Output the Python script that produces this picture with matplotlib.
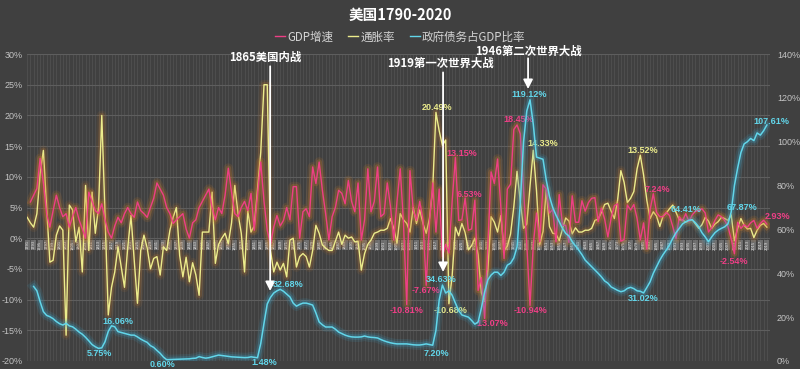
import numpy as np
import matplotlib
matplotlib.use("Agg")
import matplotlib.pyplot as plt
import matplotlib.patheffects as pe
from matplotlib.lines import Line2D

# ---------------- data (years 1791-2019) ----------------
years = np.arange(1791, 2020)

gdp_growth = [
    None, 5.9, 7.0, 8.1, 13.0, 9.0, 4.0, 1.8, 4.5, 7.0,          # 1791-1800
    5.0, 3.5, 4.0, 1.8, 3.5, 5.0, 3.0, 1.5, 0.0, 7.5,            # 1801-1810
    6.0, 4.5, 4.0, 5.6, 3.0, 1.0, 0.0, 2.0, 3.4, 2.5,            # 1811-1820
    4.0, 5.0, 4.0, 3.4, 5.9, 4.5, 4.0, 3.4, 5.0, 6.5,            # 1821-1830
    9.0, 8.0, 7.0, 5.0, 4.0, 2.4, 3.0, 3.5, 4.0, 1.5,            # 1831-1840
    0.0, 2.5, 3.0, 5.0, 6.0, 7.0, 8.0, 5.0, 3.0, 5.0,            # 1841-1850
    4.0, 7.0, 11.4, 7.5, 4.0, 3.5, 5.0, 6.0, 4.5, 7.3,           # 1851-1860
    1.3, 7.0, 12.4, 6.0, 1.3, -1.0, 1.8, 3.7, 2.0, 2.9,          # 1861-1870
    5.0, 3.0, 8.4, 8.4, 0.0, 4.3, 4.8, 3.5, 11.6, 8.9,           # 1871-1880
    12.4, 7.8, 4.0, -0.3, 3.5, 5.0, 7.8, 7.3, 5.6, 9.4,          # 1881-1890
    6.0, 4.3, 9.0, -0.3, 3.0, 11.3, 4.3, 6.0, 11.6, 3.5,         # 1891-1900
    4.0, 9.0, 5.1, -0.3, 6.0, 11.3, 2.4, -10.81, 11.0, 4.6,      # 1901-1910
    2.9, 6.0, 3.0, -7.67, 2.5, 9.0, 1.0, 8.0, -3.0, -1.0,        # 1911-1920
    -2.4, 6.0, 13.15, 2.9, 3.0, 6.53, 1.3, 1.5, 6.2, -8.5,       # 1921-1930
    -6.4, -13.07, -1.3, 10.8, 8.9, 12.9, 5.1, -3.3, 8.0, 8.8,    # 1931-1940
    17.7, 18.45, 17.0, 8.0, -1.0, -10.94, -1.1, 4.1, -0.6, 8.7,  # 1941-1950
    8.0, 4.1, 4.7, -0.6, 7.1, 2.1, 2.1, -0.7, 6.9, 2.6,          # 1951-1960
    2.6, 6.1, 4.4, 5.8, 6.5, 6.6, 2.7, 4.9, 3.1, 0.2,            # 1961-1970
    3.3, 5.3, 5.6, -0.5, -0.2, 5.4, 4.6, 5.5, 3.2, -0.3,         # 1971-1980
    2.5, -1.8, 4.6, 7.24, 4.2, 3.5, 3.5, 4.2, 3.7, 1.9,          # 1981-1990
    -0.1, 3.5, 2.8, 4.0, 2.7, 3.8, 4.4, 4.5, 4.8, 4.1,           # 1991-2000
    1.0, 1.7, 2.9, 3.8, 3.5, 2.9, 1.9, -0.1, -2.54, 2.6,         # 2001-2010
    1.6, 2.2, 1.8, 2.5, 2.9, 1.6, 2.4, 2.93, 2.3,                # 2011-2019
]

inflation = [
    3.4, 2.5, 1.8, 4.0, 10.5, 14.3, 5.0, -3.9, -3.6, 0.5,        # 1791-1800
    2.0, 1.3, -15.8, 5.4, 4.6, -0.6, 1.8, -5.5, 8.6, -2.0,       # 1801-1810
    7.5, 0.8, 5.0, 20.0, 4.0, -12.5, -8.0, -5.5, -1.4, -4.7,     # 1811-1820
    -8.0, -1.5, 3.7, -3.6, -10.6, -2.0, 0.5, -1.6, -5.0, -3.3,   # 1821-1830
    -3.0, -6.0, -1.4, -2.0, 1.3, 3.4, 5.0, -2.8, -6.3, -3.1,     # 1831-1840
    -7.1, -4.0, -6.0, -9.3, 1.0, 1.0, 1.0, 7.5, -4.1, -1.0,      # 1841-1850
    0.0, 0.8, -0.9, 2.5, 8.6, 4.0, 0.8, -5.5, 4.5, 1.0,          # 1851-1860
    2.0, 8.0, 14.0, 25.0, 25.0, -2.0, -5.5, -3.9, -5.2, -4.1,    # 1861-1870
    -6.3, -0.3, 0.0, -4.7, -3.0, -2.5, -3.0, -4.7, -2.0, 2.1,    # 1871-1880
    0.8, -1.1, -1.6, -2.0, -2.0, -0.5, 1.0, -1.0, 0.5, 0.0,      # 1881-1890
    0.2, -0.6, -0.5, -5.2, -2.5, -1.0, -0.3, 0.8, 1.0, 1.3,      # 1891-1900
    1.3, 1.6, 3.2, 1.6, -0.8, 4.0, 3.0, 2.4, 1.0, 5.0,           # 1901-1910
    2.4, 4.6, 2.4, 0.8, 3.2, 8.0, 20.49, 17.5, 15.1, 16.0,       # 1911-1920
    -10.68, -6.1, 1.8, 0.4, 2.4, 0.9, -1.9, -1.2, 0.0, -2.7,     # 1921-1930
    -8.9, -10.3, -5.2, 3.5, 2.6, 1.0, 3.7, -2.0, -1.3, 0.7,      # 1931-1940
    5.1, 10.9, 6.0, 1.6, 2.3, 8.5, 14.33, 7.7, -1.0, 1.1,        # 1941-1950
    7.9, 1.9, 0.8, 0.7, -0.4, 1.5, 3.3, 2.8, 0.7, 1.7,           # 1951-1960
    1.0, 1.0, 1.3, 1.3, 1.6, 2.9, 3.1, 4.2, 5.5, 5.7,            # 1961-1970
    4.4, 3.2, 6.2, 11.0, 9.1, 5.8, 6.5, 7.6, 11.3, 13.52,        # 1971-1980
    10.3, 6.2, 3.2, 4.3, 3.6, 1.9, 3.6, 4.1, 4.8, 5.4,           # 1981-1990
    4.2, 3.0, 3.0, 2.6, 2.8, 3.0, 2.3, 1.6, 2.2, 3.4,            # 1991-2000
    2.8, 1.6, 2.3, 2.7, 3.4, 3.2, 2.9, 3.8, -0.4, 1.6,           # 2001-2010
    3.2, 2.1, 1.5, 1.6, 0.1, 1.3, 2.1, 2.4, 1.8,                 # 2011-2019
]

debt_ratio = [
    None, None, 34.0, 32.0, 27.0, 22.5, 20.8, 20.2, 19.3, 18.0,  # 1791-1800
    17.0, 16.4, 17.2, 16.0, 15.6, 14.5, 13.2, 12.2, 10.8, 9.2,   # 1801-1810
    7.5, 6.5, 5.75, 6.0, 8.8, 13.5, 16.06, 15.6, 13.4, 13.0,     # 1811-1820
    12.6, 12.2, 11.8, 11.8, 11.0, 10.0, 9.2, 8.5, 7.0, 6.2,      # 1821-1830
    4.8, 3.5, 1.8, 0.60, 0.65, 0.7, 0.8, 0.8, 0.8, 0.9,          # 1831-1840
    1.0, 1.2, 1.3, 2.0, 1.6, 1.3, 1.5, 1.9, 2.3, 2.7,            # 1841-1850
    2.5, 2.3, 2.1, 1.9, 1.8, 1.7, 1.6, 1.55, 1.6, 1.9,           # 1851-1860
    1.7, 1.48, 8.0, 17.2, 26.0, 29.0, 31.0, 32.0, 32.68, 31.8,   # 1861-1870
    30.5, 29.2, 26.4, 25.0, 25.8, 26.4, 26.4, 26.0, 25.5, 21.9,  # 1871-1880
    17.8, 16.5, 15.5, 15.5, 15.5, 14.5, 13.2, 12.5, 11.8, 11.3,  # 1881-1890
    11.0, 10.9, 10.9, 11.0, 11.4, 11.0, 10.8, 10.7, 10.5, 9.8,   # 1891-1900
    9.2, 8.7, 8.3, 8.0, 7.8, 7.8, 7.8, 7.8, 7.6, 7.4,            # 1901-1910
    7.3, 7.3, 7.5, 7.8, 7.5, 7.2, 14.0, 27.8, 34.63, 31.0,       # 1911-1920
    32.0, 30.0, 26.4, 23.0, 21.0, 20.5, 20.0, 18.5, 16.8, 17.8,  # 1921-1930
    24.1, 31.4, 37.0, 39.2, 40.5, 40.5, 39.0, 40.5, 43.7, 44.6,  # 1931-1940
    47.0, 52.0, 72.0, 100.0, 114.0, 119.12, 108.0, 93.0, 92.5, 92.0,  # 1941-1950
    82.5, 75.0, 70.0, 66.5, 63.5, 60.5, 58.2, 57.0, 54.4, 52.5,  # 1951-1960
    50.6, 48.5, 46.0, 44.5, 43.0, 41.5, 40.0, 38.4, 36.5, 35.5,  # 1961-1970
    33.8, 33.0, 32.2, 31.6, 32.0, 33.1, 33.6, 33.0, 32.0, 31.8,  # 1971-1980
    31.02, 33.5, 36.1, 40.0, 43.0, 46.0, 48.5, 50.6, 53.0, 55.9, # 1981-1990
    58.5, 60.5, 62.5, 63.5, 64.2, 64.41, 63.0, 61.2, 58.5, 56.6, # 1991-2000
    54.4, 56.6, 58.5, 59.7, 60.5, 61.2, 62.5, 67.87, 80.0, 88.0, # 2001-2010
    95.0, 99.0, 100.0, 101.5, 100.5, 104.0, 103.0, 105.0, 107.61,  # 2011-2019
]

series_names = ["GDP增速", "通胀率", "政府债务占GDP比率"]
title_text = "美国1790-2020"
left_ticks = list(range(-20, 31, 5))
right_ticks = list(range(0, 141, 20))

# labelled points: (series, year, dx_px, dy_px)
point_labels = [
    ("inf", 1917, 1, 5), ("gdp", 1923, 6, 4), ("gdp", 1926, 4, 4),
    ("gdp", 1942, 2, 5), ("debt", 1946, -1, 5.5), ("inf", 1947, 10, 7),
    ("inf", 1980, 2, 5), ("gdp", 1984, 4, 4.5), ("debt", 1996, -6, 10),
    ("debt", 2008, 11, 5), ("gdp", 2018, 14, 4), ("gdp", 2009, -1, -7.5),
    ("debt", 2019, 5, 4), ("debt", 1981, 0, -6), ("gdp", 1946, 0, -5),
    ("debt", 1813, 1, -5.6), ("debt", 1817, 6.5, 4), ("debt", 1834, -4.5, -4.5),
    ("debt", 1862, 7, -5), ("debt", 1869, 8, 5), ("debt", 1916, 3.5, -8),
    ("debt", 1919, -1, 6), ("inf", 1921, 2, -7), ("gdp", 1908, 0, -6),
    ("gdp", 1914, 0, -5), ("gdp", 1932, 7, -5),
]

events = [
    # text, text_x, text_y, arrow_x, arrow_top, arrow_tip (left-axis units)
    ("1865美国内战", 1864.3, 29.5, 1865.9, 28.0, -8.6),
    ("1919第一次世界大战", 1918.3, 28.5, 1919.2, 27.0, -5.5),
    ("1946第二次世界大战", 1945.4, 30.5, 1945.4, 29.3, 24.3),
]

# ---------------- style ----------------
BG = "#404040"
PINK = "#ee3f86"
YELLOW = "#ecec8c"
CYAN = "#62d6ea"
GLOW_WARM = "#c97a2a"
GLOW_COOL = "#3a9fc4"
TICK_C = "#c4c4c4"
CJK = ["Noto Sans CJK SC", "DejaVu Sans"]
NARROW = ["Liberation Sans Narrow", "Liberation Sans", "DejaVu Sans"]

gdp = np.array([np.nan if v is None else v for v in gdp_growth], dtype=float)
inf = np.array([np.nan if v is None else v for v in inflation], dtype=float)
debt = np.array([np.nan if v is None else v for v in debt_ratio], dtype=float)
assert len(gdp) == len(years) == len(inf) == len(debt)

W, H = 800, 369
fig = plt.figure(figsize=(W / 100, H / 100), dpi=100, facecolor=BG)
ax = fig.add_axes([27 / W, 8 / H, 743 / W, 307 / H])
ax.set_facecolor(BG)
ax2 = ax.twinx()

ax.set_xlim(1790.95, 2019.97)
ax.set_ylim(-20, 30)
ax2.set_ylim(0, 140)

for a in (ax, ax2):
    for s in a.spines.values():
        s.set_visible(False)

ax.set_yticks(left_ticks)
ax.set_yticklabels([f"{t}%" for t in left_ticks])
ax2.set_yticks(right_ticks)
ax2.set_yticklabels([f"{t}%" for t in right_ticks])
ax.tick_params(axis="y", length=0, pad=3, labelcolor=TICK_C, labelsize=6.5)
ax2.tick_params(axis="y", length=0, pad=5, labelcolor=TICK_C, labelsize=6.5)
for lab in ax.get_yticklabels() + ax2.get_yticklabels():
    lab.set_fontfamily(NARROW)
ax.set_xticks([])

ax.grid(axis="y", color="#5e5e5e", lw=0.8, zorder=0)
ax.set_axisbelow(True)
ax.vlines(years, -20, 30, colors="#525252", lw=0.55, zorder=0.5)

# category labels on the zero line
for yr in years[::2]:
    ax.text(yr, -0.35, str(yr), rotation=90, fontsize=2.6, color="#e6e6e6",
            ha="center", va="top", zorder=1.5, family="DejaVu Sans",
            bbox=dict(boxstyle="square,pad=0.15", fc="#8c8c8c", ec="none", alpha=0.6))

def glow(color, a1=0.14, a2=0.26):
    return [pe.Stroke(linewidth=7.0, foreground=color, alpha=a1),
            pe.Stroke(linewidth=4.0, foreground=color, alpha=a2),
            pe.Normal()]

ax.plot(years, inf, color=YELLOW, lw=1.0, zorder=3, path_effects=glow(GLOW_WARM, 0.10, 0.2))
ax.plot(years, gdp, color=PINK, lw=1.0, zorder=3.2, path_effects=glow(GLOW_WARM))
ax2.plot(years, debt, color=CYAN, lw=1.1, zorder=3, path_effects=glow(GLOW_COOL))

# data labels
ser = {"gdp": (ax, gdp, PINK), "inf": (ax, inf, YELLOW), "debt": (ax2, debt, CYAN)}
for key, yr, dx, dy in point_labels:
    a, arr, col = ser[key]
    v = arr[yr - years[0]]
    a.annotate(f"{v:.2f}%", xy=(yr, v), xytext=(dx * 0.72, dy * 0.72),
               textcoords="offset points", ha="center", va="center",
               fontsize=6.5, color=col, family=NARROW, fontweight="bold", zorder=6)

# event annotations
for txt, tx, ty, axx, atop, atip in events:
    ax.annotate("", xy=(axx, atip), xytext=(axx, atop),
                arrowprops=dict(arrowstyle="-|>,head_width=0.28,head_length=0.55",
                                color="white", lw=1.3, shrinkA=0, shrinkB=0),
                zorder=7, annotation_clip=False)
    ax.text(tx, ty, txt, ha="center", va="center", fontsize=8.2, color="white",
            family=CJK, fontweight="bold", zorder=8, clip_on=False)

# title & legend
fig.text(0.5, 1 - 15 / H, title_text, ha="center", va="center", fontsize=10.5,
         color="white", family=CJK, fontweight="bold")
handles = [Line2D([], [], color=c, lw=1.0) for c in (PINK, YELLOW, CYAN)]
leg = fig.legend(handles, series_names, loc="center", bbox_to_anchor=(0.5, 1 - 37 / H),
                 ncol=3, frameon=False, handlelength=0.9, handletextpad=0.15,
                 columnspacing=1.3, prop={"family": CJK, "size": 8.3})
for t in leg.get_texts():
    t.set_color("#d4d4d4")

fig.savefig("out.png", dpi=100, facecolor=BG)
